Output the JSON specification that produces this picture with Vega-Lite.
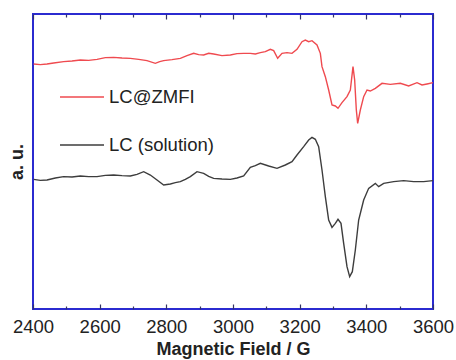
{
  "$schema": "https://vega.github.io/schema/vega-lite/v6.json",
  "width": 400,
  "height": 295,
  "autosize": "none",
  "padding": {"left": 33, "top": 14, "right": 23, "bottom": 51},
  "background": "white",
  "config": {
    "view": {"stroke": "#2b2bd0", "strokeWidth": 2},
    "axis": {"grid": false, "domain": false, "tickColor": "#333366", "tickWidth": 1.2, "labelFlush": false, "labelBound": false, "labelOverlap": false}
  },
  "datasets": {
    "spectra": [
      {"B": 2402, "v": 735, "s": "LC@ZMFI"}, {"B": 2422, "v": 733, "s": "LC@ZMFI"}, {"B": 2442, "v": 735, "s": "LC@ZMFI"},
      {"B": 2462, "v": 738, "s": "LC@ZMFI"}, {"B": 2492, "v": 742, "s": "LC@ZMFI"}, {"B": 2517, "v": 744, "s": "LC@ZMFI"},
      {"B": 2542, "v": 747, "s": "LC@ZMFI"}, {"B": 2567, "v": 746, "s": "LC@ZMFI"}, {"B": 2592, "v": 749, "s": "LC@ZMFI"},
      {"B": 2617, "v": 754, "s": "LC@ZMFI"}, {"B": 2642, "v": 755, "s": "LC@ZMFI"}, {"B": 2667, "v": 753, "s": "LC@ZMFI"},
      {"B": 2692, "v": 752, "s": "LC@ZMFI"}, {"B": 2717, "v": 749, "s": "LC@ZMFI"}, {"B": 2742, "v": 745, "s": "LC@ZMFI"},
      {"B": 2767, "v": 737, "s": "LC@ZMFI"}, {"B": 2780, "v": 742, "s": "LC@ZMFI"}, {"B": 2792, "v": 745, "s": "LC@ZMFI"},
      {"B": 2817, "v": 748, "s": "LC@ZMFI"}, {"B": 2842, "v": 752, "s": "LC@ZMFI"}, {"B": 2862, "v": 760, "s": "LC@ZMFI"},
      {"B": 2882, "v": 767, "s": "LC@ZMFI"}, {"B": 2897, "v": 763, "s": "LC@ZMFI"}, {"B": 2912, "v": 762, "s": "LC@ZMFI"},
      {"B": 2927, "v": 767, "s": "LC@ZMFI"}, {"B": 2942, "v": 765, "s": "LC@ZMFI"}, {"B": 2967, "v": 760, "s": "LC@ZMFI"},
      {"B": 2992, "v": 762, "s": "LC@ZMFI"}, {"B": 3012, "v": 766, "s": "LC@ZMFI"}, {"B": 3032, "v": 767, "s": "LC@ZMFI"},
      {"B": 3052, "v": 767, "s": "LC@ZMFI"}, {"B": 3067, "v": 765, "s": "LC@ZMFI"}, {"B": 3082, "v": 769, "s": "LC@ZMFI"},
      {"B": 3097, "v": 772, "s": "LC@ZMFI"}, {"B": 3112, "v": 779, "s": "LC@ZMFI"}, {"B": 3122, "v": 775, "s": "LC@ZMFI"},
      {"B": 3134, "v": 752, "s": "LC@ZMFI"}, {"B": 3147, "v": 767, "s": "LC@ZMFI"}, {"B": 3162, "v": 769, "s": "LC@ZMFI"},
      {"B": 3177, "v": 767, "s": "LC@ZMFI"}, {"B": 3192, "v": 779, "s": "LC@ZMFI"}, {"B": 3207, "v": 802, "s": "LC@ZMFI"},
      {"B": 3217, "v": 807, "s": "LC@ZMFI"}, {"B": 3227, "v": 802, "s": "LC@ZMFI"}, {"B": 3237, "v": 805, "s": "LC@ZMFI"},
      {"B": 3252, "v": 792, "s": "LC@ZMFI"}, {"B": 3262, "v": 767, "s": "LC@ZMFI"}, {"B": 3267, "v": 727, "s": "LC@ZMFI"},
      {"B": 3277, "v": 697, "s": "LC@ZMFI"}, {"B": 3287, "v": 657, "s": "LC@ZMFI"}, {"B": 3297, "v": 612, "s": "LC@ZMFI"},
      {"B": 3307, "v": 609, "s": "LC@ZMFI"}, {"B": 3315, "v": 602, "s": "LC@ZMFI"}, {"B": 3327, "v": 619, "s": "LC@ZMFI"},
      {"B": 3342, "v": 637, "s": "LC@ZMFI"}, {"B": 3352, "v": 657, "s": "LC@ZMFI"}, {"B": 3360, "v": 727, "s": "LC@ZMFI"},
      {"B": 3365, "v": 687, "s": "LC@ZMFI"}, {"B": 3370, "v": 597, "s": "LC@ZMFI"}, {"B": 3374, "v": 557, "s": "LC@ZMFI"},
      {"B": 3382, "v": 597, "s": "LC@ZMFI"}, {"B": 3392, "v": 637, "s": "LC@ZMFI"}, {"B": 3402, "v": 657, "s": "LC@ZMFI"},
      {"B": 3412, "v": 654, "s": "LC@ZMFI"}, {"B": 3427, "v": 662, "s": "LC@ZMFI"}, {"B": 3447, "v": 677, "s": "LC@ZMFI"},
      {"B": 3472, "v": 674, "s": "LC@ZMFI"}, {"B": 3502, "v": 677, "s": "LC@ZMFI"}, {"B": 3527, "v": 669, "s": "LC@ZMFI"},
      {"B": 3552, "v": 679, "s": "LC@ZMFI"}, {"B": 3567, "v": 672, "s": "LC@ZMFI"}, {"B": 3582, "v": 675, "s": "LC@ZMFI"},
      {"B": 3600, "v": 679, "s": "LC@ZMFI"},
      {"B": 2402, "v": 389, "s": "LC (solution)"}, {"B": 2422, "v": 386, "s": "LC (solution)"}, {"B": 2442, "v": 387, "s": "LC (solution)"},
      {"B": 2467, "v": 393, "s": "LC (solution)"}, {"B": 2492, "v": 397, "s": "LC (solution)"}, {"B": 2517, "v": 396, "s": "LC (solution)"},
      {"B": 2542, "v": 399, "s": "LC (solution)"}, {"B": 2567, "v": 397, "s": "LC (solution)"}, {"B": 2592, "v": 397, "s": "LC (solution)"},
      {"B": 2617, "v": 401, "s": "LC (solution)"}, {"B": 2642, "v": 402, "s": "LC (solution)"}, {"B": 2667, "v": 400, "s": "LC (solution)"},
      {"B": 2692, "v": 399, "s": "LC (solution)"}, {"B": 2712, "v": 404, "s": "LC (solution)"}, {"B": 2732, "v": 412, "s": "LC (solution)"},
      {"B": 2752, "v": 402, "s": "LC (solution)"}, {"B": 2772, "v": 387, "s": "LC (solution)"}, {"B": 2792, "v": 372, "s": "LC (solution)"},
      {"B": 2812, "v": 375, "s": "LC (solution)"}, {"B": 2827, "v": 379, "s": "LC (solution)"}, {"B": 2842, "v": 382, "s": "LC (solution)"},
      {"B": 2857, "v": 389, "s": "LC (solution)"}, {"B": 2872, "v": 397, "s": "LC (solution)"}, {"B": 2892, "v": 412, "s": "LC (solution)"},
      {"B": 2912, "v": 407, "s": "LC (solution)"}, {"B": 2927, "v": 398, "s": "LC (solution)"}, {"B": 2942, "v": 392, "s": "LC (solution)"},
      {"B": 2967, "v": 390, "s": "LC (solution)"}, {"B": 2992, "v": 389, "s": "LC (solution)"}, {"B": 3012, "v": 393, "s": "LC (solution)"},
      {"B": 3032, "v": 399, "s": "LC (solution)"}, {"B": 3052, "v": 425, "s": "LC (solution)"}, {"B": 3067, "v": 430, "s": "LC (solution)"},
      {"B": 3082, "v": 437, "s": "LC (solution)"}, {"B": 3107, "v": 429, "s": "LC (solution)"}, {"B": 3132, "v": 422, "s": "LC (solution)"},
      {"B": 3157, "v": 432, "s": "LC (solution)"}, {"B": 3177, "v": 442, "s": "LC (solution)"}, {"B": 3192, "v": 462, "s": "LC (solution)"},
      {"B": 3212, "v": 487, "s": "LC (solution)"}, {"B": 3227, "v": 507, "s": "LC (solution)"}, {"B": 3237, "v": 515, "s": "LC (solution)"},
      {"B": 3247, "v": 509, "s": "LC (solution)"}, {"B": 3257, "v": 487, "s": "LC (solution)"}, {"B": 3267, "v": 417, "s": "LC (solution)"},
      {"B": 3277, "v": 337, "s": "LC (solution)"}, {"B": 3287, "v": 267, "s": "LC (solution)"}, {"B": 3297, "v": 245, "s": "LC (solution)"},
      {"B": 3307, "v": 257, "s": "LC (solution)"}, {"B": 3315, "v": 269, "s": "LC (solution)"}, {"B": 3324, "v": 257, "s": "LC (solution)"},
      {"B": 3332, "v": 197, "s": "LC (solution)"}, {"B": 3342, "v": 127, "s": "LC (solution)"}, {"B": 3350, "v": 97, "s": "LC (solution)"},
      {"B": 3358, "v": 112, "s": "LC (solution)"}, {"B": 3367, "v": 177, "s": "LC (solution)"}, {"B": 3377, "v": 267, "s": "LC (solution)"},
      {"B": 3392, "v": 327, "s": "LC (solution)"}, {"B": 3407, "v": 362, "s": "LC (solution)"}, {"B": 3427, "v": 377, "s": "LC (solution)"},
      {"B": 3437, "v": 367, "s": "LC (solution)"}, {"B": 3452, "v": 377, "s": "LC (solution)"}, {"B": 3482, "v": 382, "s": "LC (solution)"},
      {"B": 3512, "v": 385, "s": "LC (solution)"}, {"B": 3542, "v": 382, "s": "LC (solution)"}, {"B": 3572, "v": 382, "s": "LC (solution)"},
      {"B": 3600, "v": 385, "s": "LC (solution)"}
    ]
  },
  "data": {"name": "spectra"},
  "resolve": {"axis": {"x": "independent"}},
  "layer": [
    {
      "mark": {"type": "line", "strokeWidth": 1.4},
      "encoding": {
        "x": {
          "field": "B", "type": "quantitative",
          "scale": {"domain": [2400, 3600], "nice": false, "zero": false},
          "axis": {
            "orient": "bottom", "values": [2400, 2600, 2800, 3000, 3200, 3400, 3600],
            "ticks": false, "labelPadding": 8, "format": "d",
            "labelFont": "Liberation Sans", "labelFontSize": 18.5, "labelColor": "#222222",
            "title": "Magnetic Field / G", "titleFont": "Liberation Sans", "titleFontSize": 18,
            "titleFontWeight": "bold", "titleColor": "#222222", "titlePadding": 5
          }
        },
        "y": {
          "field": "v", "type": "quantitative",
          "scale": {"domain": [0, 885], "nice": false, "zero": false},
          "axis": {
            "ticks": false, "labels": false, "domain": false,
            "title": "a. u.", "titleFont": "Liberation Sans", "titleFontSize": 18,
            "titleFontWeight": "bold", "titleColor": "#222222", "titlePadding": 7
          }
        },
        "color": {
          "field": "s", "type": "nominal",
          "scale": {"domain": ["LC@ZMFI", "LC (solution)"], "range": ["#ef4a4f", "#3d3d3d"]},
          "legend": {
            "orient": "none", "legendX": 26, "legendY": 60, "title": null, "padding": 0,
            "symbolType": "stroke", "symbolSize": 1936, "symbolStrokeWidth": 1.5,
            "labelFont": "Liberation Sans", "labelFontSize": 18.5, "labelColor": "#222222",
            "labelOffset": 4, "rowPadding": 15, "labelLimit": 300
          }
        }
      }
    },
    {
      "mark": {"type": "point", "opacity": 0},
      "encoding": {
        "x": {
          "field": "B", "type": "quantitative",
          "scale": {"domain": [2400, 3600], "nice": false, "zero": false},
          "axis": {"orient": "bottom", "values": [2400, 2600, 2800, 3000, 3200, 3400, 3600],
                   "labels": false, "tickSize": -5, "title": null}
        }
      }
    },
    {
      "mark": {"type": "point", "opacity": 0},
      "encoding": {
        "x": {
          "field": "B", "type": "quantitative",
          "scale": {"domain": [2400, 3600], "nice": false, "zero": false},
          "axis": {"orient": "bottom", "values": [2500, 2700, 2900, 3100, 3300, 3500],
                   "labels": false, "tickSize": -3, "title": null}
        }
      }
    },
    {
      "mark": {"type": "point", "opacity": 0},
      "encoding": {
        "x": {
          "field": "B", "type": "quantitative",
          "scale": {"domain": [2400, 3600], "nice": false, "zero": false},
          "axis": {"orient": "top", "values": [2400, 2600, 2800, 3000, 3200, 3400, 3600],
                   "labels": false, "tickSize": -5, "title": null}
        }
      }
    },
    {
      "mark": {"type": "point", "opacity": 0},
      "encoding": {
        "x": {
          "field": "B", "type": "quantitative",
          "scale": {"domain": [2400, 3600], "nice": false, "zero": false},
          "axis": {"orient": "top", "values": [2500, 2700, 2900, 3100, 3300, 3500],
                   "labels": false, "tickSize": -3, "title": null}
        }
      }
    }
  ]
}
